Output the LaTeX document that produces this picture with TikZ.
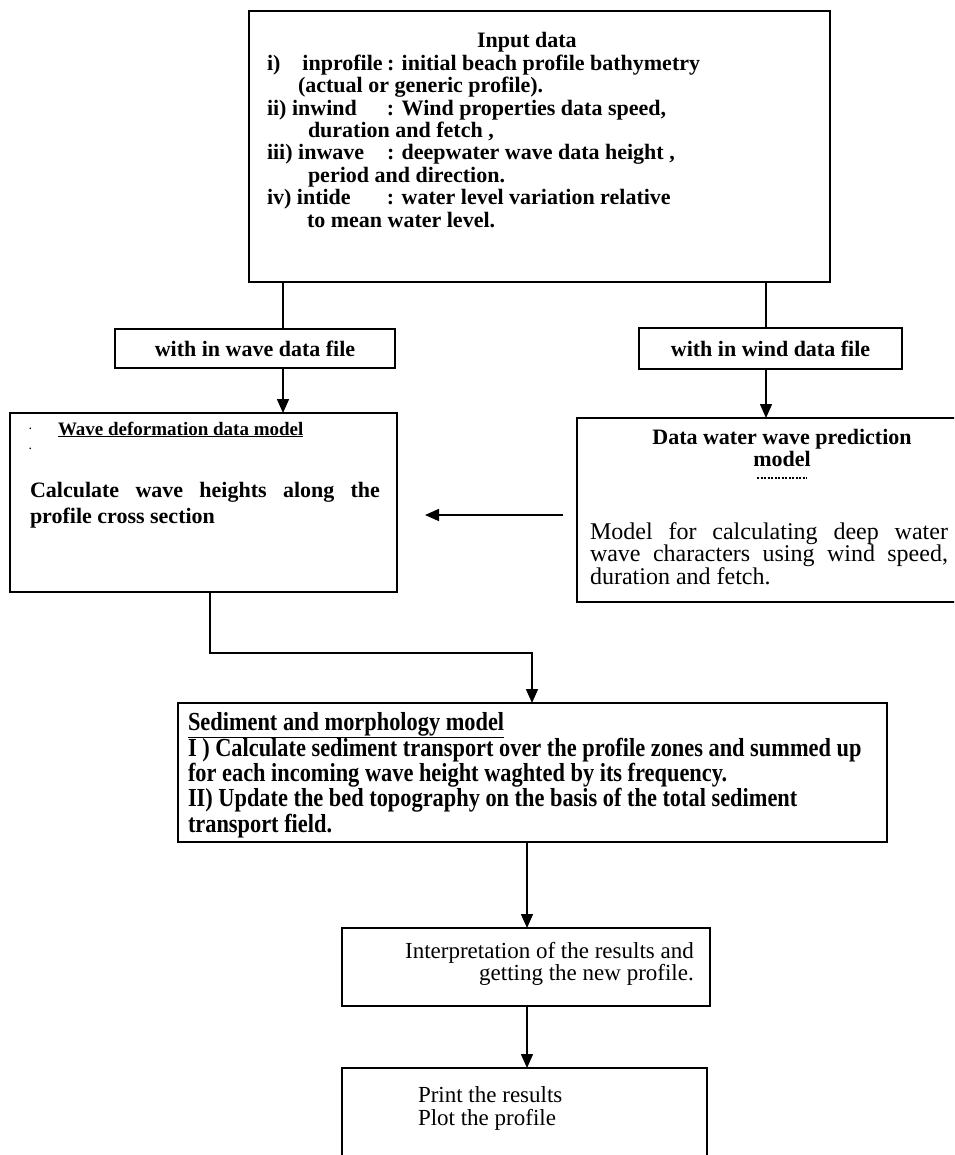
\documentclass[tikz,border=0pt]{standalone}
\usepackage{fontspec}
\setmainfont{Liberation Serif}
\newfontfamily\estrecha[FakeStretch=0.86]{Liberation Serif}
\usetikzlibrary{arrows.meta, positioning, calc}

\begin{document}
\begin{tikzpicture}[
  x=1pt, y=-1pt,
  caja/.style={
    rectangle, draw=black, line width=1.5pt,
    inner sep=0pt, outer sep=0pt, anchor=north west,
    font=\fontsize{22}{22}\selectfont\bfseries
  },
  texto/.style={inner sep=0pt, outer sep=0pt, anchor=base west},
  negrita/.style={font=\fontsize{22}{22.4}\selectfont\bfseries},
  flecha/.style={draw=black, line width=1.5pt, -{Triangle[length=14pt,width=12pt]}},
  linea/.style={draw=black, line width=1.5pt}
]

\useasboundingbox (0,0) rectangle (954,1155);
\fill[white] (0,0) rectangle (954,1155);
\clip (0,0) rectangle (954,1155);

% ── CAJAS ────────────────────────────────────────────────────

\node[caja, minimum width=581pt, minimum height=271pt] (entrada) at (249,11) {};
\node[caja, minimum width=280pt, minimum height=39pt] (archola) at (115,329) {with in wave data file};
\node[caja, minimum width=263pt, minimum height=41pt] (archviento) at (639,328) {with in wind data file};
\node[caja, minimum width=387pt, minimum height=179pt] (deform) at (10,413) {};
\node[caja, minimum width=390pt, minimum height=184pt] (predic) at (577,418) {};
\node[caja, minimum width=709pt, minimum height=139pt] (sedim) at (178,703) {};
\node[caja, minimum width=368pt, minimum height=78pt] (interp) at (342,928) {};
\node[caja, minimum width=365pt, minimum height=120pt] (impr) at (342,1068) {};

% ── TEXTOS ───────────────────────────────────────────────────

\node[texto, negrita] (lista) at (267,48) {%
  \begin{tabular}[t]{@{}l@{}l@{}}
    \multicolumn{2}{@{}l@{}}{\hspace{210pt}Input data} \\
    \makebox[120pt][l]{i)\hspace{22pt}inprofile} & : initial beach profile bathymetry \\
    \multicolumn{2}{@{}l@{}}{\hspace{31pt}(actual or generic profile).} \\
    \makebox[120pt][l]{ii) inwind} & : Wind properties data speed, \\
    \multicolumn{2}{@{}l@{}}{\hspace{41pt}duration and fetch ,} \\
    \makebox[120pt][l]{iii) inwave} & : deepwater wave data height , \\
    \multicolumn{2}{@{}l@{}}{\hspace{41pt}period and direction.} \\
    \makebox[120pt][l]{iv) intide} & : water level variation relative \\
    \multicolumn{2}{@{}l@{}}{\hspace{40pt}to mean water level.}
  \end{tabular}
};

\node[texto, font=\fontsize{19}{19}\selectfont\bfseries] (cabdef) at (58,435) {\underline{Wave deformation data model}};
\node[texto, font=\fontsize{14}{16}\selectfont] (puntos) at (28,433) {%
  \begin{tabular}[t]{@{}c@{}}
    \textperiodcentered \\
    .
  \end{tabular}
};
\node[texto, font=\fontsize{22}{26}\selectfont\bfseries] (cuerpodef) at (30,497) {%
  \begin{tabular}[t]{@{}p{350pt}@{}}
    Calculate wave heights along the\linebreak profile cross section
  \end{tabular}
};

\node[inner sep=0pt, anchor=base, negrita] (cabpred) at (782,444) {%
  \begin{tabular}[t]{@{}c@{}}
    Data water wave prediction \\
    model
  \end{tabular}
};
\draw[line width=1.3pt, dash pattern=on 2pt off 1.5pt] ($(cabpred.base)+(-25,34)$) -- ++(50,0);
\node[texto, font=\fontsize{24}{21.5}\selectfont] (cuerpopred) at (590,539) {%
  \begin{tabular}[t]{@{}p{358pt}@{}}
    Model for calculating deep water\linebreak
    wave characters using wind speed,\linebreak
    duration and fetch.
  \end{tabular}
};

\node[texto, font=\estrecha\fontsize{26}{23.5}\selectfont\bfseries] (textosed) at (188,730) {%
  \begin{tabular}[t]{@{}l@{}}
    \underline{Sediment and morphology model} \\
    I ) Calculate sediment transport over the profile zones and summed up \\
    for each incoming wave height waghted by its frequency. \\
    II) Update the bed topography on the basis of the total sediment \\
    transport field.
  \end{tabular}
};

\node[inner sep=0pt, anchor=base east, font=\fontsize{23}{22}\selectfont] (textointerp) at (694,958) {%
  \begin{tabular}[t]{@{}r@{}}
    Interpretation of the results and \\
    getting the new profile.
  \end{tabular}
};

\node[texto, font=\fontsize{23}{23}\selectfont] (textoimpr) at (418,1102) {%
  \begin{tabular}[t]{@{}l@{}}
    Print the results \\
    Plot the profile
  \end{tabular}
};

% ── CONEXIONES ───────────────────────────────────────────────

\coordinate (xola) at ([xshift=168pt]archola.north west);
\coordinate (xviento) at ([xshift=127pt]archviento.north west);
\coordinate (codo) at (532,653);
\coordinate (xcentro) at (527,0);

% entrada -> archivos
\draw[linea] (entrada.south -| xola) -- (xola);
\draw[linea] (entrada.south -| xviento) -- (xviento);
% archivos -> modelos
\draw[flecha] (archola.south -| xola) -- (deform.north -| xola);
\draw[flecha] (archviento.south -| xviento) -- (predic.north -| xviento);
% prediccion -> deformacion
\draw[flecha, shorten <=14pt, shorten >=28pt] ([yshift=-5pt]predic.west) -- ([yshift=-5pt]predic.west -| deform.east);
% deformacion -> sedimento
\draw[flecha] ([xshift=200pt]deform.south west) |- (codo) -- (codo |- sedim.north);
% sedimento -> interpretacion -> impresion
\draw[flecha] (sedim.south -| xcentro) -- (interp.north -| xcentro);
\draw[flecha] (interp.south -| xcentro) -- (impr.north -| xcentro);

\end{tikzpicture}
\end{document}
